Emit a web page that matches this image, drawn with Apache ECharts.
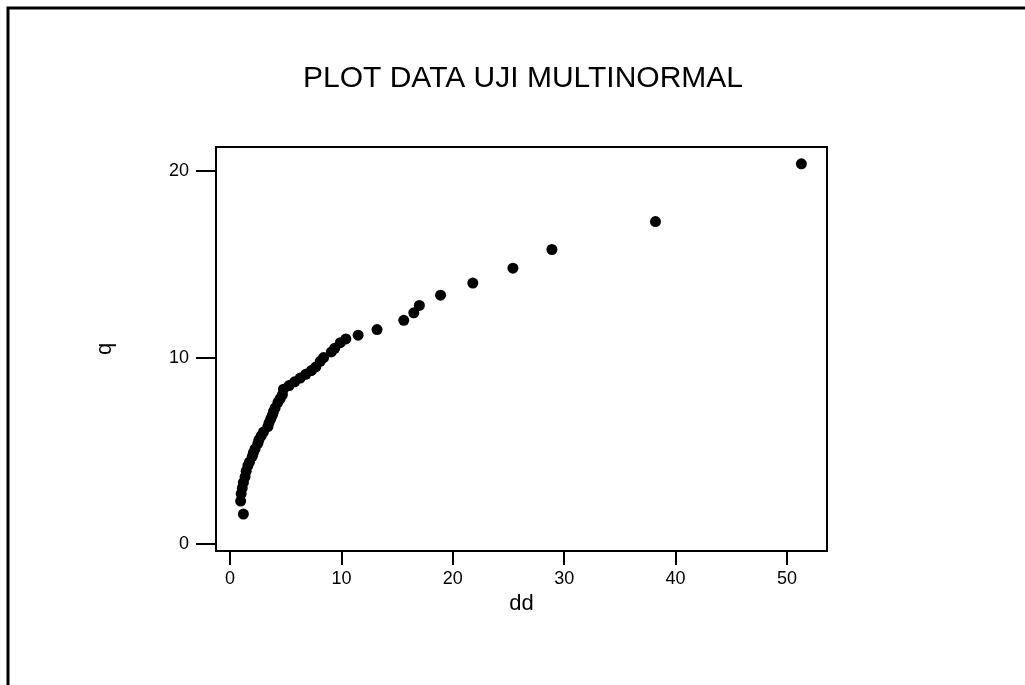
<!DOCTYPE html>
<html lang="en">
<head>
    <meta charset="UTF-8">
    <title>PLOT DATA UJI MULTINORMAL</title>
    <script src="https://cdn.jsdelivr.net/npm/echarts@6/dist/echarts.min.js"></script>
    <style>
        body {
            margin: 0;
            background: #fff;
        }

        #chart {
            width: 1025px;
            height: 685px;
        }
    </style>
</head>
<body>
<div id="chart"></div>
<script>
    // values (dd = squared distance, q = chi-square quantile)
    const ddValues = [1.2, 0.95, 1.0, 1.1, 1.2, 1.35, 1.45, 1.6, 1.75, 2.0,
        2.1, 2.25, 2.5, 2.6, 2.8, 3.0, 3.4, 3.5, 3.65, 3.8,
        3.9, 4.05, 4.3, 4.5, 4.7, 4.8, 5.3, 5.8, 6.3, 6.8,
        7.3, 7.7, 8.1, 8.4, 9.1, 9.4, 9.9, 10.4, 11.5, 13.2,
        15.6, 16.5, 17.0, 18.9, 21.8, 25.4, 28.9, 38.2, 51.3];
    const qValues = [1.6, 2.3, 2.7, 3.0, 3.3, 3.6, 3.9, 4.2, 4.4, 4.7,
        4.9, 5.1, 5.4, 5.6, 5.8, 6.0, 6.3, 6.5, 6.7, 6.9,
        7.1, 7.3, 7.6, 7.8, 8.0, 8.3, 8.5, 8.7, 8.9, 9.1,
        9.3, 9.5, 9.8, 10.0, 10.3, 10.5, 10.8, 11.0, 11.2, 11.5,
        12.0, 12.4, 12.8, 13.35, 14.0, 14.8, 15.8, 17.3, 20.4];
    const xTicks = [0, 10, 20, 30, 40, 50];
    const yTicks = [0, 10, 20];

    const points = ddValues.map((d, i) => [d, qValues[i]]);
    const font = 'Liberation Sans, Arial, sans-serif';

    const chart = echarts.init(document.getElementById('chart'));
    chart.setOption({
        animation: false,
        backgroundColor: '#fff',
        title: {
            text: 'PLOT DATA UJI MULTINORMAL',
            left: 298,
            top: 59,
            textStyle: {
                fontFamily: font,
                fontSize: 30,
                fontWeight: 'normal',
                color: '#000'
            }
        },
        graphic: [{
            type: 'rect',
            shape: {x: 8, y: 8, width: 1200, height: 900},
            style: {fill: 'none', stroke: '#000', lineWidth: 3}
        }],
        grid: {
            left: 216,
            top: 147,
            right: 198,
            bottom: 134,
            show: true,
            borderColor: '#000',
            borderWidth: 2
        },
        xAxis: {
            type: 'value',
            min: -1.26,
            max: 53.6,
            name: 'dd',
            nameLocation: 'middle',
            nameGap: 38,
            nameTextStyle: {fontFamily: font, fontSize: 22, color: '#000'},
            splitLine: {show: false},
            axisLine: {onZero: false, lineStyle: {color: '#000', width: 2}},
            axisTick: {customValues: xTicks, length: 14, lineStyle: {color: '#000', width: 2}},
            axisLabel: {customValues: xTicks, margin: 19, fontFamily: font, fontSize: 18, color: '#000'}
        },
        yAxis: {
            type: 'value',
            min: -0.38,
            max: 21.3,
            name: 'q',
            nameLocation: 'middle',
            nameGap: 100,
            nameTextStyle: {fontFamily: font, fontSize: 22, color: '#000'},
            splitLine: {show: false},
            axisLine: {onZero: false, lineStyle: {color: '#000', width: 2}},
            axisTick: {customValues: yTicks, length: 20, lineStyle: {color: '#000', width: 2}},
            axisLabel: {customValues: yTicks, margin: 27, fontFamily: font, fontSize: 18, color: '#000'}
        },
        series: [{
            type: 'scatter',
            data: points,
            symbol: 'circle',
            symbolSize: 11,
            itemStyle: {color: '#000', opacity: 1}
        }]
    });
</script>
</body>
</html>
